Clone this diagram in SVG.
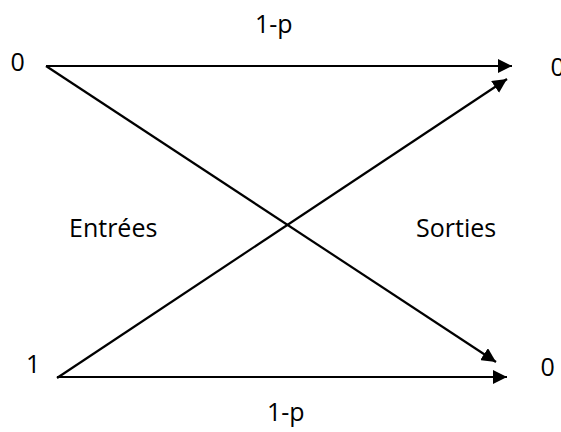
<svg xmlns="http://www.w3.org/2000/svg" width="561" height="432" viewBox="0 0 561 432">
<style>
text{font-family:"Open Sans","Liberation Sans",sans-serif;font-size:25px;fill:#000}
.c line{stroke:#000;stroke-width:2.2;marker-end:url(#ah)}
</style>
<defs>
<marker id="ah" viewBox="0 0 10 10" refX="10" refY="5" markerWidth="6.5" markerHeight="6.5" markerUnits="strokeWidth" orient="auto">
<path d="M0,0L10,5L0,10z" fill="#000"/>
</marker>
</defs>
<rect width="561" height="432" fill="#fff"/>
<g class="c" id="connectors">
<line x1="46" y1="66" x2="512" y2="66"/>
<line x1="46" y1="66" x2="496" y2="362"/>
<line x1="57" y1="378" x2="507" y2="79"/>
<line x1="57" y1="377" x2="507" y2="377"/>
</g>
<g id="in0"><text x="10.5" y="71">0</text></g>
<g id="in1"><text x="26" y="373">1</text></g>
<g id="out0"><text x="550.5" y="76">0</text></g>
<g id="out1"><text x="540.5" y="376">0</text></g>
<g id="lbl-top"><text x="255" y="33">1-p</text></g>
<g id="lbl-bot"><text x="267" y="421">1-p</text></g>
<g id="entrees"><text x="69" y="237">Entrées</text></g>
<g id="sorties"><text x="416" y="237">Sorties</text></g>
</svg>
